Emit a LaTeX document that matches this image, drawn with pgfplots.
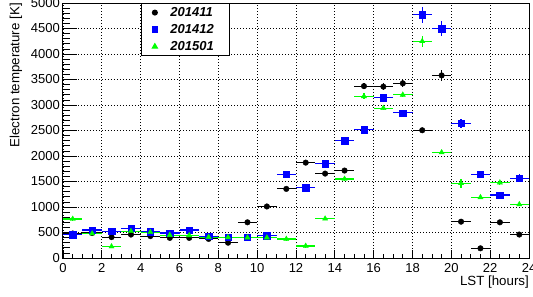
\documentclass[border=0pt]{standalone}
\usepackage{pgfplots}
\pgfplotsset{compat=1.18}
\usepackage{pgfplotstable}
\usepackage{fontspec}
\setmainfont{Liberation Sans}
\definecolor{rblue}{RGB}{0,0,255}
\definecolor{rgreen}{RGB}{0,255,0}

\pgfplotstableread{
x y ex ey
0.5 480 0.5 30
1.5 490 0.5 30
2.5 410 0.5 30
3.5 460 0.5 30
4.5 430 0.5 25
5.5 395 0.5 25
6.5 395 0.5 25
7.5 375 0.5 25
8.5 300 0.5 25
9.5 700 0.5 30
10.5 1010 0.5 30
11.5 1355 0.5 30
12.5 1870 0.5 40
13.5 1655 0.5 40
14.5 1715 0.5 40
15.5 3370 0.5 65
16.5 3360 0.5 65
17.5 3425 0.5 72
18.5 2505 0.5 40
19.5 3580 0.5 100
20.5 712 0.5 40
21.5 190 0.5 40
22.5 700 0.5 40
23.5 460 0.5 40
}\dataA

\pgfplotstableread{
x y ex ey
0.5 460 0.5 30
1.5 550 0.5 30
2.5 525 0.5 30
3.5 585 0.5 30
4.5 515 0.5 30
5.5 490 0.5 30
6.5 550 0.5 30
7.5 430 0.5 30
8.5 405 0.5 30
9.5 405 0.5 30
10.5 440 0.5 30
11.5 1640 0.5 40
12.5 1380 0.5 40
13.5 1850 0.5 40
14.5 2300 0.5 40
15.5 2515 0.5 40
16.5 3140 0.5 50
17.5 2845 0.5 50
18.5 4770 0.5 157
19.5 4495 0.5 143
20.5 2645 0.5 88
21.5 1645 0.5 50
22.5 1235 0.5 50
23.5 1565 0.5 78
}\dataB

\pgfplotstableread{
x y ex ey
0.5 765 0.5 30
1.5 480 0.5 30
2.5 225 0.5 30
3.5 525 0.5 30
4.5 505 0.5 30
5.5 450 0.5 30
6.5 445 0.5 30
7.5 410 0.5 30
8.5 405 0.5 30
9.5 400 0.5 30
10.5 400 0.5 30
11.5 372 0.5 30
12.5 235 0.5 30
13.5 770 0.5 30
14.5 1550 0.5 40
15.5 3170 0.5 60
16.5 2940 0.5 40
17.5 3200 0.5 40
18.5 4250 0.5 111
19.5 2070 0.5 40
20.5 1465 0.5 88
21.5 1190 0.5 40
22.5 1478 0.5 40
23.5 1052 0.5 40
}\dataC

\begin{document}
\begin{tikzpicture}
\useasboundingbox (-63pt,-39pt) rectangle (470pt,258pt);
\begin{axis}[
  at={(0pt,0pt)}, anchor=south west,
  width=466pt, height=255pt, scale only axis,
  xmin=0, xmax=24, ymin=0, ymax=5000,
  xtick={0,2,...,24}, ytick={0,500,...,5000},
  minor x tick num=3, minor y tick num=4,
  tick align=inside, tick pos=left,
  major tick length=14pt, minor tick length=7pt,
  xtick style={/pgfplots/major tick length=7.6pt, /pgfplots/minor tick length=3.8pt},
  tick style={black, line width=0.8pt},
  axis line style={black, line width=1pt},
  grid=major,
  grid style={black, line width=0.8pt, dash pattern=on 1pt off 2pt},
  tick label style={font=\fontsize{13pt}{15pt}\selectfont},
  /pgf/number format/assume math mode=true,
  /pgf/number format/1000 sep={},
  xticklabel style={inner sep=0pt, yshift=-5pt},
  yticklabel style={inner sep=0pt, xshift=-3pt},
  xlabel={LST [hours]},
  xlabel style={at={(axis description cs:1,-0.0706)}, anchor=north east, inner sep=0pt, font=\fontsize{13.3pt}{15pt}\selectfont},
  ylabel={Electron temperature [K]},
  ylabel style={at={(axis description cs:-0.1009,1)}, anchor=east, rotate=0, inner sep=0pt, font=\fontsize{13.3pt}{15pt}\selectfont},
  legend style={at={(axis cs:4,5000)}, anchor=north west, draw=black, line width=1.2pt,
    inner xsep=2pt, inner ysep=0.5pt, column sep=0pt, row sep=0pt,
    font=\fontsize{13pt}{14pt}\selectfont\bfseries\itshape,
    nodes={text height=9pt, text depth=2pt, inner ysep=3pt}},
  legend cell align=left,
  error bars/error bar style={line width=1.1pt},
  error bars/error mark=none,
]
\addplot[only marks, black, mark=*, mark size=2.8pt, mark options={solid, fill=black, draw=black},
  legend image code/.code={\path (0pt,0pt) (24pt,0pt); \draw[black, only marks, mark=*, mark size=2.4pt] plot coordinates {(11pt,0pt)};},
  error bars/.cd, x dir=both, x explicit, y dir=both, y explicit]
  table[x=x, y=y, x error=ex, y error=ey]{\dataA};
\addlegendentry{\makebox[55pt][l]{201411}}
\addplot[only marks, rblue, mark=square*, mark size=3.2pt, mark options={solid, fill=rblue, draw=rblue},
  legend image code/.code={\path (0pt,0pt) (24pt,0pt); \draw[rblue, fill=rblue, only marks, mark=square*, mark size=2.6pt] plot coordinates {(11pt,0pt)};},
  error bars/.cd, x dir=both, x explicit, y dir=both, y explicit]
  table[x=x, y=y, x error=ex, y error=ey]{\dataB};
\addlegendentry{\makebox[55pt][l]{201412}}
\addplot[only marks, rgreen, mark=triangle*, mark size=3pt, mark options={solid, fill=rgreen, draw=rgreen},
  legend image code/.code={\path (0pt,0pt) (24pt,0pt); \draw[rgreen, fill=rgreen, only marks, mark=triangle*, mark size=2.8pt] plot coordinates {(11pt,0pt)};},
  error bars/.cd, x dir=both, x explicit, y dir=both, y explicit]
  table[x=x, y=y, x error=ex, y error=ey]{\dataC};
\addlegendentry{\makebox[55pt][l]{201501}}
\end{axis}
\end{tikzpicture}
\end{document}
